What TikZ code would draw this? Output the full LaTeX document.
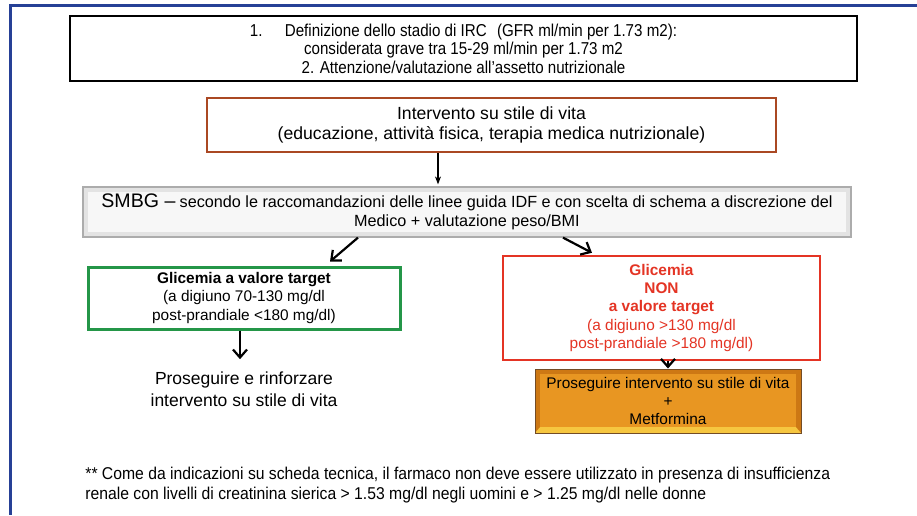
\documentclass[tikz,border=0pt]{standalone}
\usepackage{fontspec}
\setmainfont{Liberation Sans}
\newfontfamily\narrowfont{Liberation Sans}[FakeStretch=0.88]
\newfontfamily\notefont{Liberation Sans}[FakeStretch=0.92]
\usetikzlibrary{positioning, arrows.meta, calc}

\definecolor{frameblue}{RGB}{38,64,150}
\definecolor{lifebrown}{RGB}{170,72,35}
\definecolor{okgreen}{RGB}{36,150,72}
\definecolor{kored}{RGB}{228,52,36}
\definecolor{metorange}{RGB}{232,150,34}
\definecolor{metdark}{RGB}{205,120,20}
\definecolor{metyellow}{RGB}{246,198,64}

\begin{document}
\begin{tikzpicture}[
    x=0.5pt, y=-0.5pt,
    font=\fontsize{7.7}{9.2}\selectfont,
    box/.style={draw, rectangle, align=center, inner sep=2pt, fill=white},
    header/.style={box, line width=1pt, minimum width=393.5pt, minimum height=32.5pt, font=\narrowfont\fontsize{8.6}{9.25}\selectfont},
    lifestyle/.style={box, draw=lifebrown, line width=1.4pt, minimum width=284.5pt, minimum height=27pt, font=\fontsize{8.8}{9.6}\selectfont},
    smbg/.style={box, fill=gray!22, draw=gray!65, line width=0.6pt, minimum width=384pt, minimum height=25pt,
        path picture={
            \fill[gray!6] ([shift={(2.6pt,2.6pt)}]path picture bounding box.south west) rectangle ([shift={(-2.6pt,-2.6pt)}]path picture bounding box.north east);
        }},
    okbox/.style={box, draw=okgreen, line width=1.5pt, minimum width=156pt, minimum height=31pt},
    kobox/.style={box, draw=kored, text=kored, line width=1.2pt, minimum width=158.5pt, minimum height=52pt},
    metbox/.style={box, fill=metdark, draw=brown!60!black, line width=0.5pt, minimum width=133pt, minimum height=32pt, font=\fontsize{7.7}{8.8}\selectfont,
        path picture={
            \fill[metyellow] (path picture bounding box.south west) -- (path picture bounding box.south east) -- ([shift={(-2.6pt,3pt)}]path picture bounding box.south east) -- ([shift={(2.6pt,3pt)}]path picture bounding box.south west) -- cycle;
            \fill[metorange] ([shift={(2.6pt,3pt)}]path picture bounding box.south west) rectangle ([shift={(-2.6pt,-2.6pt)}]path picture bounding box.north east);
        }},
    plain/.style={align=center, inner sep=2pt},
    note/.style={align=left, inner sep=0pt, font=\notefont\fontsize{8.55}{9.6}\selectfont},
    frame/.style={draw=frameblue, line width=1.5pt},
    thinarrow/.style={draw, semithick, -{Stealth[length=4pt, width=3pt]}},
    arrow/.style={draw, line width=1.1pt, -{Straight Barb[length=4pt, width=7pt]}}
]

\useasboundingbox (0,0) rectangle (917,515);

% ==========================================
% FRAME
% ==========================================

\draw[frame] (917,5) -- (10,5) -- (10,515);

% ==========================================
% TOP: CKD STAGE & LIFESTYLE
% ==========================================

\node[header] (Header) at (463.5, 48.5) {
    1.\hspace{1.3em}Definizione dello stadio di IRC\hspace{0.6em}(GFR ml/min per 1.73 m2): \\
    considerata grave tra 15-29 ml/min per 1.73 m2 \\
    2. Attenzione/valutazione all’assetto nutrizionale
};

\node[lifestyle] (Lifestyle) at (491.5, 125) {
    Intervento su stile di vita \\
    (educazione, attività fisica, terapia medica nutrizionale)
};

% SMBG
\node[smbg] (SMBG) at (467, 212) {
    {\fontsize{9.8}{9.8}\selectfont SMBG –} {\fontsize{8.1}{11}\selectfont secondo le raccomandazioni delle linee guida IDF e con scelta di schema a discrezione del} \\
    {\fontsize{8.1}{11}\selectfont Medico + valutazione peso/BMI}
};

\draw[thinarrow, shorten >=1pt] ([xshift=-26.75pt]Lifestyle.south) -- ([xshift=-26.75pt]Lifestyle.south |- SMBG.north);

% ==========================================
% GLYCAEMIA BRANCHES
% ==========================================

\node[okbox] (TargetOK) at (244, 298) {
    \textbf{Glicemia a valore target} \\
    (a digiuno 70-130 mg/dl \\
    post-prandiale <180 mg/dl)
};

\node[plain, font=\fontsize{8.75}{11}\selectfont] (Continue) at (244, 389) {
    Proseguire e rinforzare \\
    intervento su stile di vita
};

\node[kobox] (TargetKO) at (661.5, 308) {
    \textbf{Glicemia} \\
    \textbf{NON} \\
    \textbf{a valore target} \\
    (a digiuno >130 mg/dl \\
    post-prandiale >180 mg/dl)
};

\node[metbox] (Metformin) at (668, 401) {
    Proseguire intervento su stile di vita \\
    + \\
    Metformina
};

\draw[arrow] ([xshift=-54.5pt]SMBG.south) -- ([xshift=43pt, yshift=2pt]TargetOK.north);
\draw[arrow] ([xshift=48pt]SMBG.south) -- ([xshift=-34.75pt, yshift=1pt]TargetKO.north);
\draw[arrow, shorten >=4pt] ([xshift=-2pt]TargetOK.south) -- ([xshift=-2pt]TargetOK.south |- Continue.north);
\draw[arrow] ([xshift=3.25pt]TargetKO.south) -- ([xshift=3.25pt]TargetKO.south |- Metformin.north);

% ==========================================
% FOOTNOTE
% ==========================================

\node[note, anchor=west] (Footnote) at (85, 485) {
    ** Come da indicazioni su scheda tecnica, il farmaco non deve essere utilizzato in presenza di insufficienza \\
    renale con livelli di creatinina sierica > 1.53 mg/dl negli uomini e > 1.25 mg/dl nelle donne
};

\end{tikzpicture}
\end{document}
